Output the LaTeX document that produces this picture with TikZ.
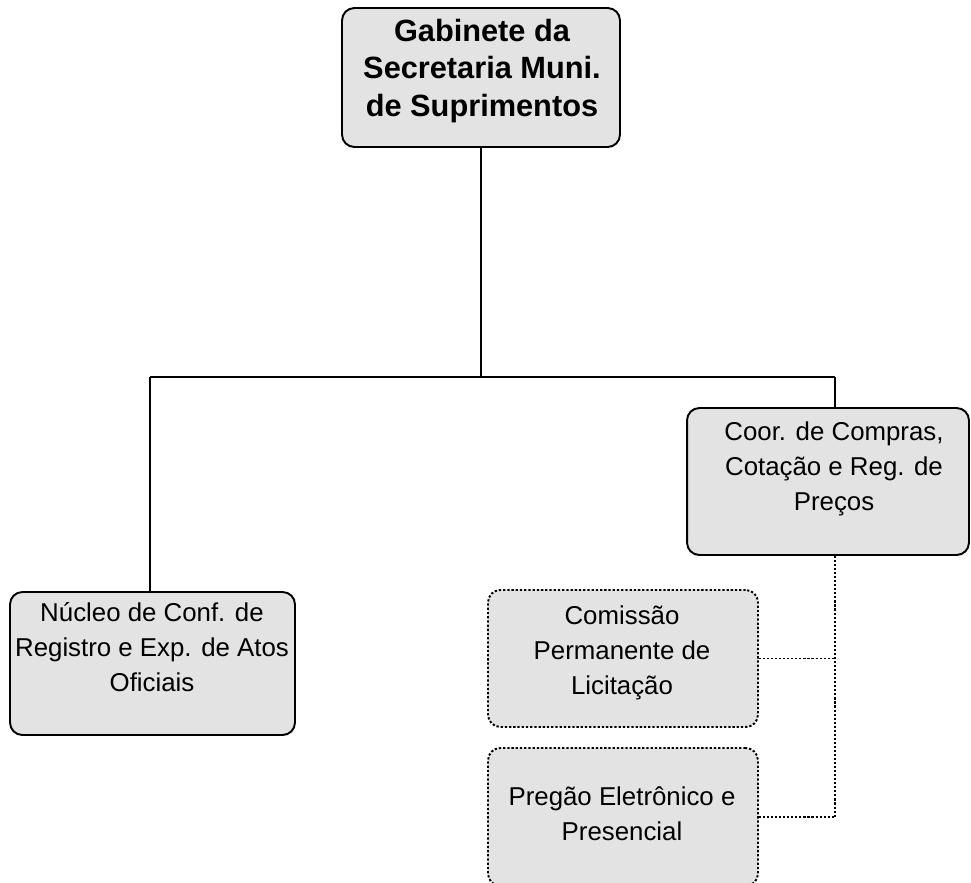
\documentclass[tikz,border=0pt]{standalone}
\usepackage{fontspec}
\setmainfont{Liberation Sans}
\tikzset{
  unitbox/.style={draw, line width=1.1pt, rounded corners=7pt, fill=black!11},
  subbox/.style={unitbox, dash pattern=on 1.3pt off 1.1pt, line width=1.1pt},
  unittext/.style={align=center, inner sep=0pt, font=\fontsize{14.7}{19.8}\selectfont},
  headtext/.style={unittext, font=\bfseries\fontsize{17.5}{21.5}\selectfont},
}
\begin{document}
\begin{tikzpicture}[x=0.02cm, y=-0.02cm]
      \useasboundingbox (0,0) rectangle (971,883);
      \draw
        (481,77.5) node[unitbox, minimum width=5.56cm, minimum height=2.78cm] (gab){}
        (152.5,663.5) node[unitbox, minimum width=5.7cm, minimum height=2.86cm] (nuc){}
        (828,481.5) node[unitbox, minimum width=5.64cm, minimum height=2.94cm] (coor){}
        (623,658.5) node[subbox, minimum width=5.4cm, minimum height=2.74cm] (com){}
        (623,817) node[subbox, minimum width=5.4cm, minimum height=2.76cm] (preg){};
      \draw
        (482,71) node[headtext] (gab-t){Gabinete da\\Secretaria Muni.\\de Suprimentos}
        (152,647) node[unittext] (nuc-t){Núcleo de Conf. de\\Registro e Exp. de Atos\\Oficiais}
        (834,469) node[unittext] (coor-t){Coor. de Compras,\\Cotação e Reg. de\\Preços}
        (622,653) node[unittext] (com-t){Comissão\\Permanente de\\Licitação}
        (622,814) node[unittext] (preg-t){Pregão Eletrônico e\\Presencial};
      \coordinate (busl) at (150,377);
      \coordinate (busr) at (835,377);
      \begin{scope}[line width=0.8pt]
        \draw (gab.south) to (gab.south |- busl);
        \draw (busl) to (busr);
        \draw (busl) to (busl |- nuc.north);
        \draw (busr) to (busr |- coor.north);
      \end{scope}
      \begin{scope}[dash pattern=on 1.2pt off 1.1pt, line width=1pt]
        \draw (busr |- coor.south) to (busr |- preg.east);
        \draw (com.east) to (com.east -| busr);
        \draw (preg.east) to (preg.east -| busr);
      \end{scope}
    \end{tikzpicture}
\end{document}
